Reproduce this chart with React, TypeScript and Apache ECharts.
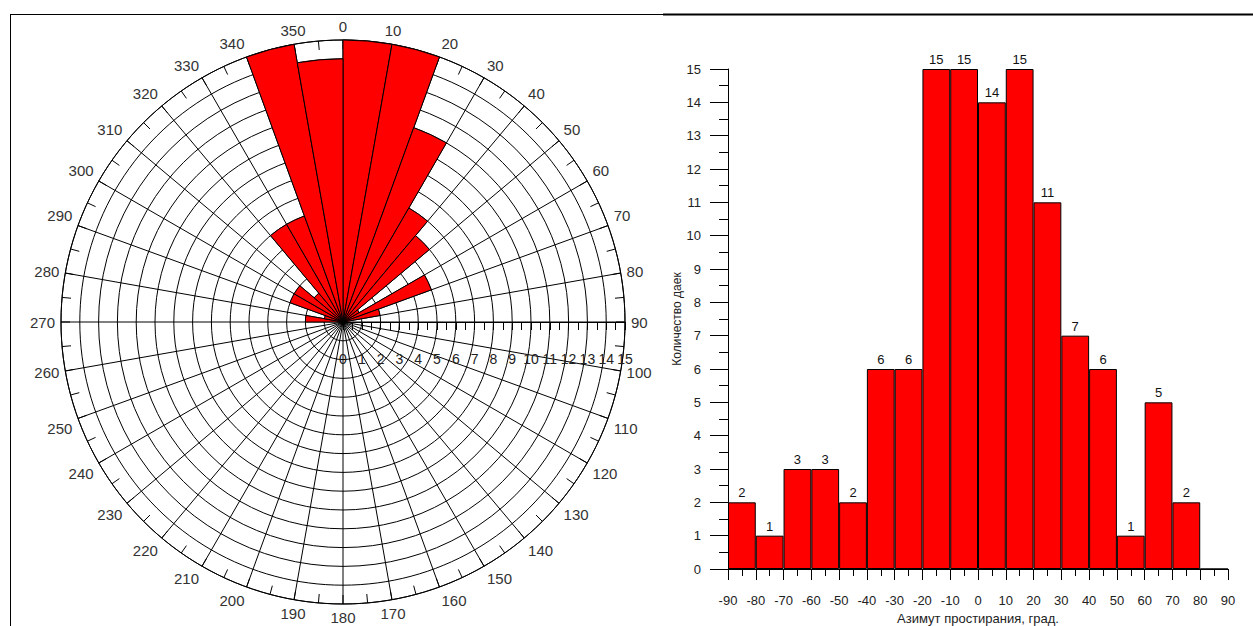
import React, { useEffect, useRef } from "react";
import * as echarts from "echarts";

// Rose diagram: 10° sectors, clockwise from north (0..350)
const roseBins = [
  "0", "10", "20", "30", "40", "50", "60", "70", "80",
  "90", "100", "110", "120", "130", "140", "150", "160", "170",
  "180", "190", "200", "210", "220", "230", "240", "250", "260",
  "270", "280", "290", "300", "310", "320", "330", "340", "350",
];
const roseCounts = [
  15, 15, 11, 7, 6, 1, 5, 2, 0,
  0, 0, 0, 0, 0, 0, 0, 0, 0,
  0, 0, 0, 0, 0, 0, 0, 0, 0,
  2, 1, 3, 3, 2, 6, 6, 15, 14,
];

// Histogram: strike azimuth bins (-90..80, width 10)
const histBins = [
  "-90", "-80", "-70", "-60", "-50", "-40", "-30", "-20", "-10",
  "0", "10", "20", "30", "40", "50", "60", "70", "80",
];
const histCounts = [2, 1, 3, 3, 2, 6, 6, 15, 15, 14, 15, 11, 7, 6, 1, 5, 2, 0];

const xTitle = "Азимут простирания, град.";
const yTitle = "Количество даек";

const FONT = "'Liberation Sans', Arial, sans-serif";
const BLACK = "#000";

export default function App() {
  const ref = useRef<HTMLDivElement>(null);
  useEffect(() => {
    if (!ref.current) return;
    const chart = echarts.init(ref.current, null, { renderer: "svg" });
    const line = { color: BLACK, width: 1 };
    const option: any = {
      animation: false,
      backgroundColor: "#fff",
      textStyle: { fontFamily: FONT },
      polar: [
        { center: [343, 322], radius: [0, 282] },
        { center: [343, 322], radius: [0, 282] },
      ],
      angleAxis: [
        {
          polarIndex: 0,
          type: "category",
          data: roseBins,
          startAngle: 90,
          clockwise: true,
          boundaryGap: true,
          show: false,
        },
        {
          polarIndex: 1,
          type: "value",
          min: 0,
          max: 360,
          interval: 10,
          startAngle: 90,
          clockwise: true,
          axisLine: { show: true, lineStyle: line },
          axisTick: { show: true, inside: true, length: 9, lineStyle: line },
          minorTick: { show: true, splitNumber: 2, length: 9, lineStyle: line },
          splitLine: { show: true, lineStyle: line },
          axisLabel: {
            show: true,
            margin: 6,
            fontSize: 15,
            color: "#333",
            fontFamily: FONT,
            formatter: (v: number) => (v >= 360 ? "" : String(v)),
          },
        },
      ],
      radiusAxis: [
        { polarIndex: 0, type: "value", min: 0, max: 15, show: false },
        {
          polarIndex: 1,
          type: "value",
          min: 0,
          max: 15,
          interval: 1,
          axisLine: { show: false },
          axisTick: { show: false },
          axisLabel: { show: false },
          splitLine: { show: true, lineStyle: line },
        },
      ],
      grid: [
        { left: 343, top: 100, width: 282, height: 222, outerBoundsMode: "none", containLabel: false },
        { left: 728, top: 69, width: 500, height: 500, outerBoundsMode: "none", containLabel: false },
      ],
      xAxis: [
        {
          gridIndex: 0,
          type: "value",
          min: 0,
          max: 15,
          interval: 1,
          axisLine: { show: true, onZero: false, lineStyle: line },
          axisTick: { show: true, length: 8, lineStyle: line },
          minorTick: { show: true, splitNumber: 2, length: 8, lineStyle: line },
          splitLine: { show: false },
          axisLabel: { margin: 30, fontSize: 14, color: "#222", fontFamily: FONT },
        },
        {
          gridIndex: 1,
          type: "value",
          min: -90,
          max: 90,
          interval: 10,
          axisLine: { show: true, onZero: false, lineStyle: line },
          axisTick: { show: true, length: 11, lineStyle: line },
          minorTick: { show: true, splitNumber: 2, length: 7, lineStyle: line },
          splitLine: { show: false },
          axisLabel: { margin: 25, fontSize: 13, color: "#222", fontFamily: FONT },
          name: xTitle,
          nameLocation: "middle",
          nameGap: 43,
          nameTextStyle: { fontSize: 13, color: "#222", fontFamily: FONT },
        },
        {
          gridIndex: 1,
          type: "category",
          data: histBins,
          boundaryGap: true,
          show: false,
        },
      ],
      yAxis: [
        { gridIndex: 0, type: "value", min: 0, max: 1, show: false },
        {
          gridIndex: 1,
          type: "value",
          min: 0,
          max: 15,
          interval: 1,
          axisLine: { show: true, onZero: false, lineStyle: line },
          axisTick: { show: true, length: 18, lineStyle: line },
          minorTick: { show: true, splitNumber: 2, length: 9, lineStyle: line },
          splitLine: { show: false },
          axisLabel: { margin: 27, fontSize: 13, color: "#222", fontFamily: FONT },
          name: yTitle,
          nameLocation: "middle",
          nameRotate: 90,
          nameGap: 44,
          nameTextStyle: { fontSize: 12, color: "#222", fontFamily: FONT },
        },
      ],
      series: [
        {
          type: "bar",
          coordinateSystem: "polar",
          polarIndex: 0,
          data: roseCounts,
          barCategoryGap: "0%",
          itemStyle: { color: "#ff0000", borderColor: BLACK, borderWidth: 1 },
          z: 3,
        },
        {
          type: "bar",
          xAxisIndex: 2,
          yAxisIndex: 1,
          data: histCounts,
          barCategoryGap: "0%",
          itemStyle: { color: "#ff0000", borderColor: BLACK, borderWidth: 1 },
          label: {
            show: true,
            position: "top",
            distance: 3,
            fontSize: 13,
            color: "#111",
            fontFamily: FONT,
            formatter: (p: any) => (p.value ? String(p.value) : ""),
          },
        },
      ],
      graphic: [
        { type: "line", shape: { x1: 10, y1: 14.5, x2: 663, y2: 14.5 }, style: { stroke: BLACK, lineWidth: 1 } },
        { type: "line", shape: { x1: 663, y1: 14.5, x2: 1253, y2: 14.5 }, style: { stroke: BLACK, lineWidth: 2 } },
        { type: "line", shape: { x1: 10.5, y1: 14, x2: 10.5, y2: 626 }, style: { stroke: BLACK, lineWidth: 1 } },
      ],
    };
    chart.setOption(option);
    return () => chart.dispose();
  }, []);
  return (
    <div
      ref={ref}
      style={{ position: "fixed", left: 0, top: 0, width: 1253, height: 626, background: "#fff" }}
    />
  );
}
